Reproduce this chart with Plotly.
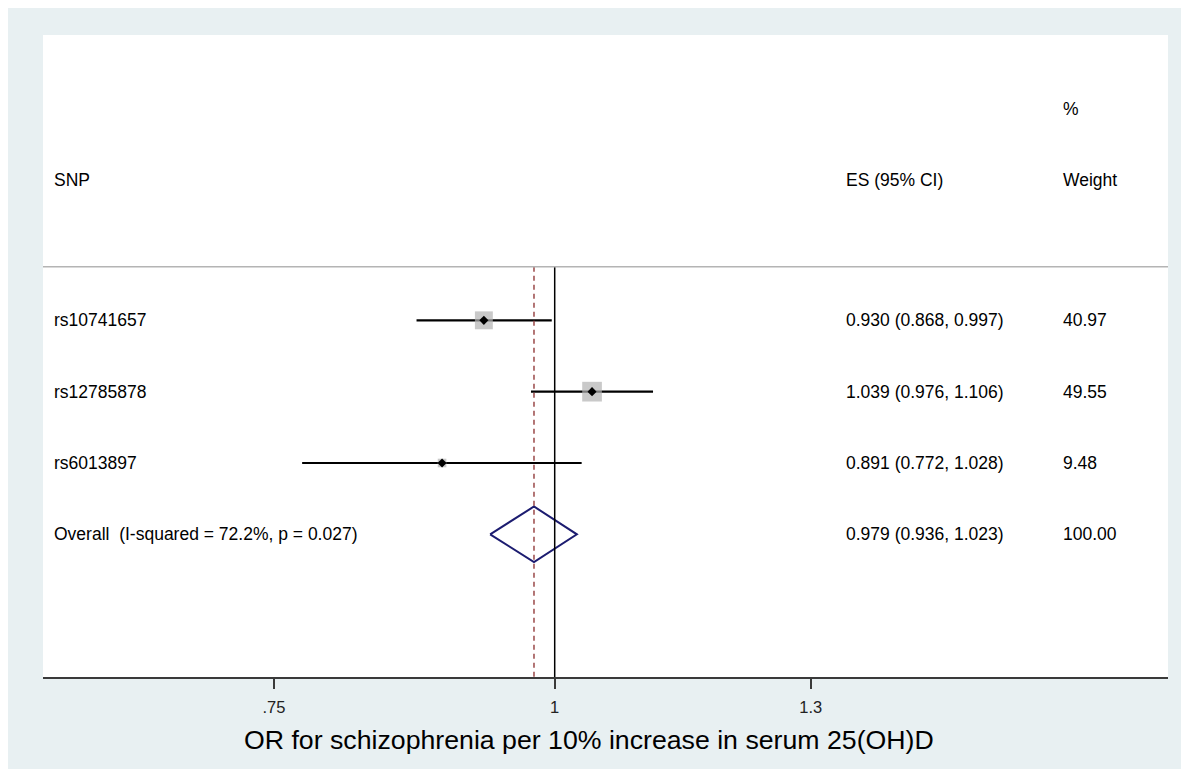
import plotly.graph_objects as go
import math

# ---- data ----
snps = ["rs10741657", "rs12785878", "rs6013897"]
es = [0.930, 1.039, 0.891]
ci_lo = [0.868, 0.976, 0.772]
ci_hi = [0.997, 1.106, 1.028]
weights = [40.97, 49.55, 9.48]
overall_label = "Overall  (I-squared = 72.2%, p = 0.027)"
overall_es = 0.979
overall_lo = 0.936
overall_hi = 1.023
overall_w = 100.00
tick_vals = [0.75, 1, 1.3]
tick_text = [".75", "1", "1.3"]
x_title = "OR for schizophrenia per 10% increase in serum 25(OH)D"

rows = [1, 2, 3]
overall_row = 4

FONT = "Liberation Sans, Arial, Helvetica, sans-serif"
FS = 17.5

OFF = 8  # page body margin
W, H = 1181, 761
ML, MT = 35, 27
PW = 1125
PH = 642.5
MR = W - ML - PW
MB = H - MT - PH

def px_x(p):  # screen px -> paper
    return (p - OFF - ML) / PW

def px_y(p):
    return (MT + PH - (p - OFF)) / PH

fig = go.Figure()

# CI lines
for r, lo, hi in zip(rows, ci_lo, ci_hi):
    fig.add_trace(go.Scatter(x=[lo, hi], y=[r, r], mode="lines",
                             line=dict(color="black", width=2.2),
                             showlegend=False, hoverinfo="skip"))

# weight boxes
fig.add_trace(go.Scatter(x=es, y=rows, mode="markers",
                         marker=dict(symbol="square", color="#b2b2b2",
                                     size=[2.8 * math.sqrt(w) for w in weights],
                                     line=dict(width=0)),
                         showlegend=False, hoverinfo="skip"))
# point estimates
fig.add_trace(go.Scatter(x=es, y=rows, mode="markers",
                         marker=dict(symbol="diamond", color="black", size=7),
                         showlegend=False, hoverinfo="skip"))

# overall diamond
fig.add_trace(go.Scatter(x=[overall_lo, overall_es, overall_hi, overall_es, overall_lo],
                         y=[overall_row, overall_row - 0.39, overall_row,
                            overall_row + 0.39, overall_row],
                         mode="lines", line=dict(color="#1c1c70", width=2),
                         showlegend=False, hoverinfo="skip"))

# reference lines
fig.add_trace(go.Scatter(x=[1, 1], y=[0.25, 6], mode="lines",
                         line=dict(color="black", width=1.5),
                         showlegend=False, hoverinfo="skip"))
fig.add_trace(go.Scatter(x=[overall_es, overall_es], y=[0.25, 6], mode="lines",
                         line=dict(color="#9a4848", width=1.5, dash="5px,4px"),
                         showlegend=False, hoverinfo="skip"))

shapes = [
    dict(type="rect", xref="paper", yref="paper", layer="below",
         x0=0, x1=1, y0=0, y1=1, fillcolor="white", line=dict(width=0)),
    # separator line under header
    dict(type="line", xref="paper", yref="y", x0=0, x1=1, y0=0.25, y1=0.25,
         line=dict(color="#b4b4b4", width=1.5)),
]

annotations = []
def txt(x, y, s, yref="y"):
    annotations.append(dict(x=x, y=y, xref="paper", yref=yref, text=s,
                            showarrow=False, xanchor="left", yanchor="middle",
                            font=dict(family=FONT, size=FS, color="black")))

x_lab = px_x(51.5)
x_es = px_x(844)
x_w = px_x(1061)

txt(x_w, -1.96, "%")
txt(x_lab, -0.97, "SNP")
txt(x_es, -0.97, "ES (95% CI)")
txt(x_w, -0.97, "Weight")
for r, name, e, lo, hi, w in zip(rows, snps, es, ci_lo, ci_hi, weights):
    txt(x_lab, r, name)
    txt(x_es, r, f"{e:.3f} ({lo:.3f}, {hi:.3f})")
    txt(x_w, r, f"{w:.2f}")
txt(x_lab, overall_row, overall_label)
txt(x_es, overall_row, f"{overall_es:.3f} ({overall_lo:.3f}, {overall_hi:.3f})")
txt(x_w, overall_row, f"{overall_w:.2f}")

annotations.append(dict(x=px_x(589), y=px_y(741), xref="paper", yref="paper",
                        text=x_title, showarrow=False, xanchor="center",
                        yanchor="middle",
                        font=dict(family=FONT, size=26.7, color="black")))

k = 976 * math.log(10)  # px per log10 unit
one_px = 554.7
x_left = (OFF + ML - one_px) / k
x_right = (OFF + ML + PW - one_px) / k

fig.update_layout(
    width=W, height=H,
    margin=dict(l=ML, r=MR, t=MT, b=MB),
    paper_bgcolor="#e8f0f2",
    plot_bgcolor="rgba(0,0,0,0)",
    shapes=shapes,
    annotations=annotations,
    xaxis=dict(type="log", range=[x_left, x_right], tickvals=tick_vals,
               ticktext=tick_text, showgrid=False, zeroline=False,
               showline=True, linecolor="#3a3a3a", linewidth=2,
               ticks="outside", ticklen=10, tickwidth=1.5, tickcolor="#3a3a3a",
               tickfont=dict(family=FONT, size=16.5, color="#222"),
               ticklabelstandoff=4),
    yaxis=dict(range=[6, -3], visible=False, showgrid=False, zeroline=False),
    showlegend=False,
)

fig.write_html("out.html")
